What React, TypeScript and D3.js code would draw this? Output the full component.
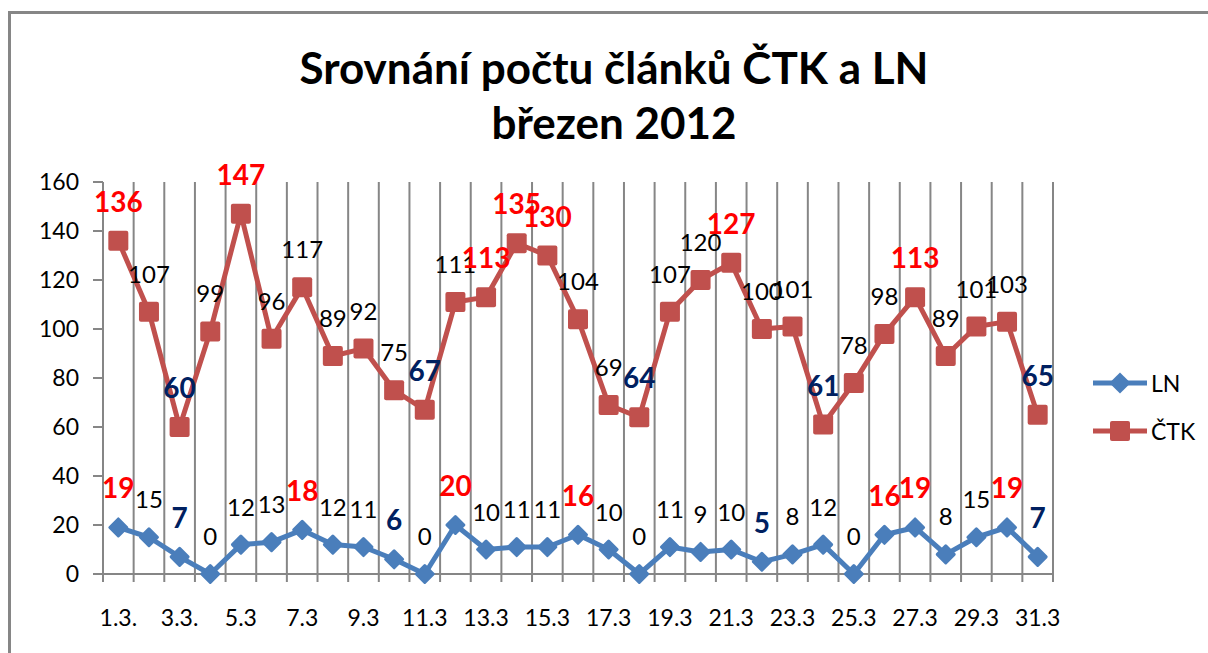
import * as d3 from 'd3';

const DAYS = Array.from({ length: 31 }, (_, i) => i + 1);
const TICK_LABELS = ['1.3.', '3.3.', '5.3', '7.3', '9.3', '11.3', '13.3', '15.3', '17.3', '19.3', '21.3', '23.3', '25.3', '27.3', '29.3', '31.3'];
const LN = [19, 15, 7, 0, 12, 13, 18, 12, 11, 6, 0, 20, 10, 11, 11, 16, 10, 0, 11, 9, 10, 5, 8, 12, 0, 16, 19, 8, 15, 19, 7];
const CTK = [136, 107, 60, 99, 147, 96, 117, 89, 92, 75, 67, 111, 113, 135, 130, 104, 69, 64, 107, 120, 127, 100, 101, 61, 78, 98, 113, 89, 101, 103, 65];
// label emphasis: r = red bold, b = navy bold, n = normal
const LN_STYLE = 'rnbnnnrnnbnrnnnrnnnnnbnnnrrnnrb';
const CTK_STYLE = 'rnbnrnnnnnbnrrrnnbnnrnnbnnrnnnb';
const Y_TICKS = [0, 20, 40, 60, 80, 100, 120, 140, 160];

const W = 1208;
const H = 653;
const FONT = 'Lato, "Open Sans", sans-serif';
const LEFT = 103, RIGHT = 1053, TOP = 182, BOTTOM = 574;
const BLUE = '#4a7ebb';
const RED = '#c0504d';
const GRID = '#868686';

const x = d3.scaleBand<number>().domain(DAYS).range([LEFT, RIGHT]);
const y = d3.scaleLinear().domain([0, 160]).range([BOTTOM, TOP]);
const cx = (d: number) => x(d)! + x.bandwidth() / 2;

const line = d3.line<number>().x((_, i) => cx(DAYS[i])).y(v => y(v));

function labelProps(s: string) {
  if (s === 'r') return { fill: '#ff0000', fontWeight: 700, fontSize: 28 };
  if (s === 'b') return { fill: '#002060', fontWeight: 700, fontSize: 28 };
  return { fill: '#000', fontWeight: 400, fontSize: 24 };
}

function Labels({ values, styles }: { values: number[]; styles: string }) {
  return (
    <g fontFamily={FONT} textAnchor="middle">
      {values.map((v, i) => {
        const p = labelProps(styles[i]);
        return (
          <text key={i} x={cx(DAYS[i])} y={y(v) - 29} fill={p.fill} fontWeight={p.fontWeight} fontSize={p.fontSize}>
            {v}
          </text>
        );
      })}
    </g>
  );
}

export default function App() {
  const bounds = [...DAYS.map(d => x(d)!), RIGHT];
  return (
    <svg width={W} height={H} style={{ position: 'absolute', left: 0, top: 0, background: '#fff' }}>
      <rect x={9.5} y={12.5} width={1300} height={700} fill="#fff" stroke={GRID} strokeWidth={3} />

      <g fontFamily={FONT} fontWeight={700} fontSize={44} textAnchor="middle" fill="#000">
        <text x={614} y={84}>Srovnání počtu článků ČTK a LN</text>
        <text x={614} y={139}>březen 2012</text>
      </g>

      {/* vertical gridlines + x ticks */}
      {bounds.map((b, i) => (
        <line key={i} x1={b} x2={b} y1={TOP} y2={BOTTOM + 8} stroke={GRID} strokeWidth={2} />
      ))}
      {/* y axis */}
      <line x1={LEFT} x2={LEFT} y1={TOP} y2={BOTTOM} stroke={GRID} strokeWidth={2} />
      {Y_TICKS.map(t => (
        <g key={t}>
          <line x1={LEFT - 10} x2={LEFT} y1={y(t)} y2={y(t)} stroke={GRID} strokeWidth={2} />
          <text x={79} y={y(t) + 8} textAnchor="end" fontFamily={FONT} fontSize={23} fill="#000">{t}</text>
        </g>
      ))}
      <line x1={LEFT} x2={RIGHT} y1={BOTTOM} y2={BOTTOM} stroke={GRID} strokeWidth={2} />
      {TICK_LABELS.map((t, i) => (
        <text key={t} x={cx(DAYS[i * 2])} y={626} textAnchor="middle" fontFamily={FONT} fontSize={23} fill="#000">{t}</text>
      ))}

      {/* series */}
      <path d={line(CTK)!} fill="none" stroke={RED} strokeWidth={5} strokeLinejoin="round" />
      {CTK.map((v, i) => (
        <rect key={i} x={cx(DAYS[i]) - 10} y={y(v) - 10} width={20} height={20} rx={2} fill={RED} />
      ))}
      <path d={line(LN)!} fill="none" stroke={BLUE} strokeWidth={5} strokeLinejoin="round" />
      {LN.map((v, i) => (
        <rect key={i} x={-7.5} y={-7.5} width={15} height={15} rx={1.5} fill={BLUE}
          transform={`translate(${cx(DAYS[i])},${y(v)}) rotate(45)`} />
      ))}

      <Labels values={CTK} styles={CTK_STYLE} />
      <Labels values={LN} styles={LN_STYLE} />

      {/* legend */}
      <g fontFamily={FONT} fontSize={23} fill="#000">
        <line x1={1093} x2={1147} y1={383} y2={383} stroke={BLUE} strokeWidth={5} />
        <rect x={-7.5} y={-7.5} width={15} height={15} fill={BLUE} transform="translate(1120,383) rotate(45)" />
        <text x={1151} y={392}>LN</text>
        <line x1={1093} x2={1147} y1={431} y2={431} stroke={RED} strokeWidth={5} />
        <rect x={1110} y={421} width={20} height={20} rx={2} fill={RED} />
        <text x={1151} y={440}>ČTK</text>
      </g>
    </svg>
  );
}
